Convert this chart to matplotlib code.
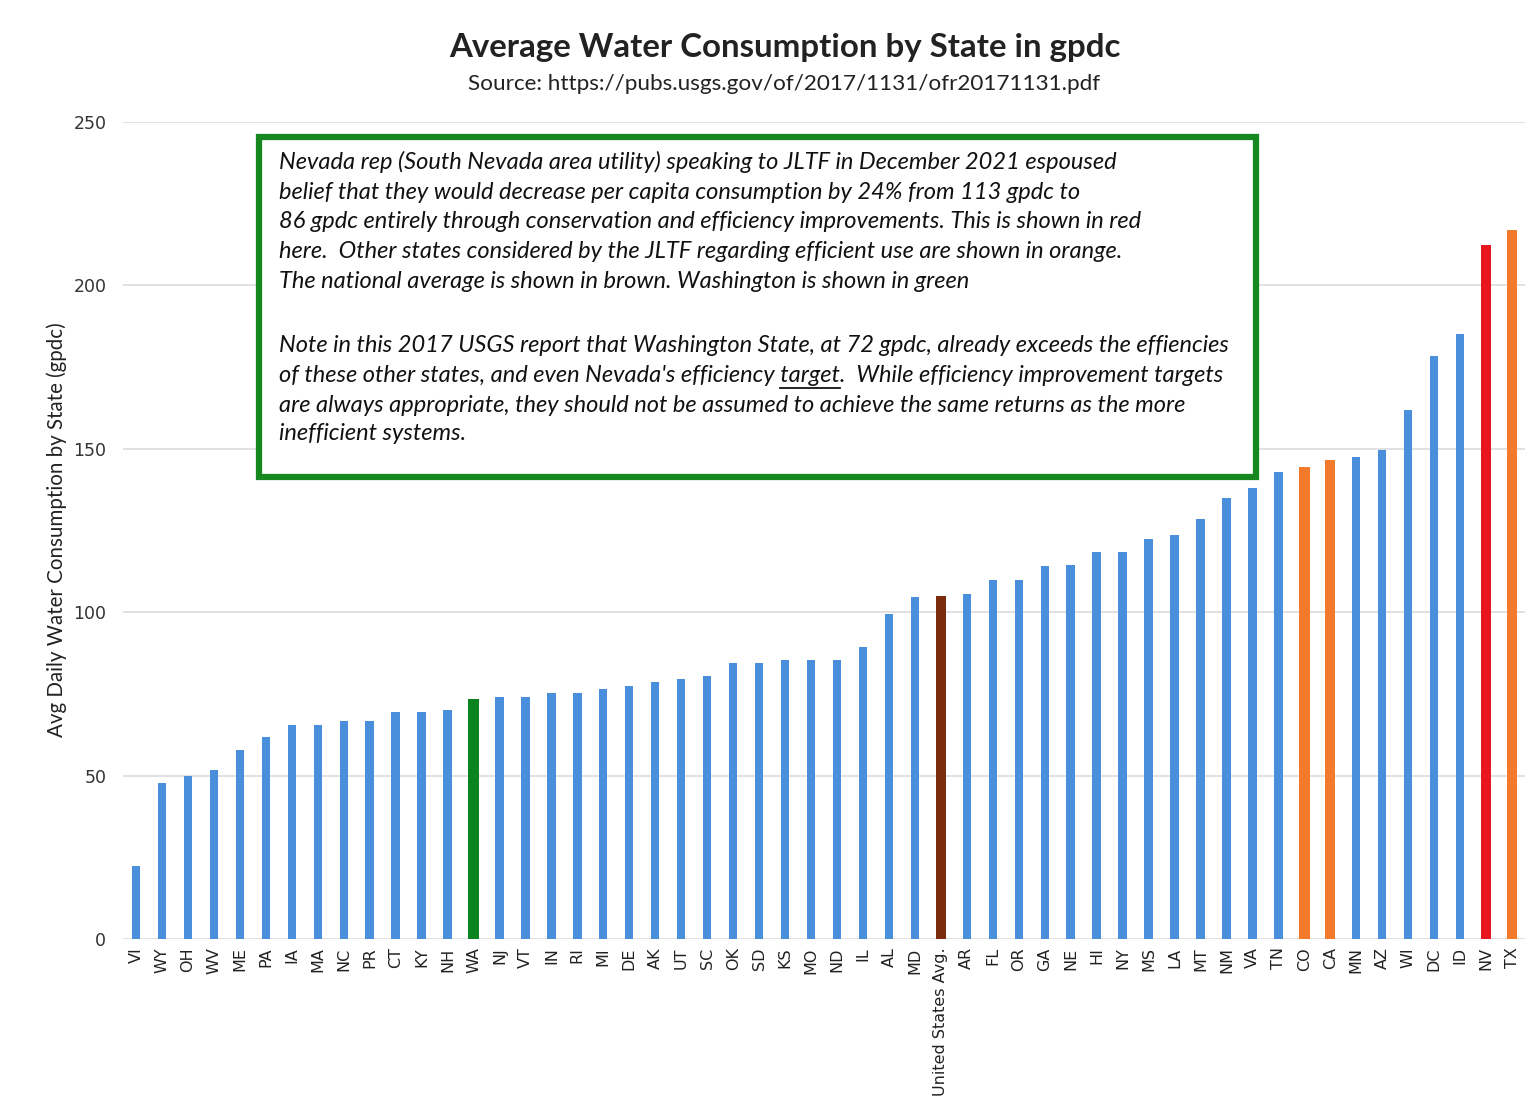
import numpy as np
import matplotlib.pyplot as plt
from matplotlib.patches import Rectangle
from matplotlib.lines import Line2D

states = ["VI", "WY", "OH", "WV", "ME", "PA", "IA", "MA", "NC", "PR", "CT", "KY", "NH", "WA",
          "NJ", "VT", "IN", "RI", "MI", "DE", "AK", "UT", "SC", "OK", "SD", "KS", "MO", "ND",
          "IL", "AL", "MD", "United States Avg.", "AR", "FL", "OR", "GA", "NE", "HI", "NY",
          "MS", "LA", "MT", "NM", "VA", "TN", "CO", "CA", "MN", "AZ", "WI", "DC", "ID", "NV", "TX"]
gpdc = [22.4, 47.8, 49.8, 51.6, 57.7, 61.7, 65.5, 65.5, 66.6, 66.6, 69.4, 69.4, 70.2, 73.5,
        74.1, 74.1, 75.2, 75.2, 76.5, 77.5, 78.5, 79.5, 80.5, 84.5, 84.5, 85.5, 85.5, 85.5,
        89.5, 99.5, 104.5, 105.0, 105.5, 110.0, 110.0, 114.0, 114.5, 118.5, 118.5,
        122.5, 123.5, 128.5, 135.0, 138.0, 143.0, 144.5, 146.5, 147.5, 149.5, 162.0, 178.5,
        185.0, 212.5, 217.0]

highlight = {"WA": "#0b8420", "United States Avg.": "#7a2c0c",
             "CO": "#f37a2a", "CA": "#f37a2a", "TX": "#f37a2a", "NV": "#e8161d"}
blue = "#4a8fdc"

note_lines = [
    "Nevada rep (South Nevada area utility) speaking to JLTF in December 2021 espoused",
    "belief that they would decrease per capita consumption by 24% from 113 gpdc to",
    "86 gpdc entirely through conservation and efficiency improvements. This is shown in red",
    "here.  Other states considered by the JLTF regarding efficient use are shown in orange.",
    "The national average is shown in brown. Washington is shown in green",
    "",
    "Note in this 2017 USGS report that Washington State, at 72 gpdc, already exceeds the effiencies",
    "of these other states, and even Nevada's efficiency target.  While efficiency improvement targets",
    "are always appropriate, they should not be assumed to achieve the same returns as the more",
    "inefficient systems.",
]
note_y = [162, 192, 222, 252, 282, 0, 345, 376, 405, 434]

W, H = 1531, 1114
fig = plt.figure(figsize=(W / 100, H / 100), dpi=100)
ax = fig.add_axes([123 / W, 1 - 939 / H, 1402 / W, 817 / H])

x = np.arange(len(states))
colors = [highlight.get(s, blue) for s in states]
widths = [0.4 if s in highlight else 0.32 for s in states]
ax.bar(x, gpdc, width=widths, color=colors, zorder=3)

ax.set_xlim(-0.5, len(states) - 0.5)
ax.set_ylim(0, 250)
ax.set_yticks([0, 50, 100, 150, 200, 250])
ax.grid(axis="y", color="#dcdcdc", linewidth=1.2, zorder=0)
for sp in ax.spines.values():
    sp.set_visible(False)
ax.set_xticks(x)
ax.set_xticklabels(states, rotation=90, fontsize=11.5, family="DejaVu Sans", color="#222222")
ax.tick_params(axis="both", length=0)
ax.tick_params(axis="x", pad=6)
ax.tick_params(axis="y", pad=12)
for t in ax.get_yticklabels():
    t.set_fontsize(12.5)
    t.set_family("DejaVu Sans")
    t.set_color("#333333")

fig.text(57 / W, 1 - 530 / H, "Avg Daily Water Consumption by State (gpdc)", rotation=90,
         ha="center", va="center", fontsize=14.8, family="Lato", color="#222222")
fig.text(785 / W, 1 - 48 / H, "Average Water Consumption by State in gpdc",
         ha="center", va="center", fontsize=23.8, family="Lato", weight="bold", color="#222222")
fig.text(784 / W, 1 - 84 / H, "Source: https://pubs.usgs.gov/of/2017/1131/ofr20171131.pdf",
         ha="center", va="center", fontsize=16.2, family="Lato", color="#222222")

box = Rectangle((259 / W, 1 - 477 / H), 997 / W, 340 / H, transform=fig.transFigure,
                facecolor="white", edgecolor="#16881f", linewidth=4.5, zorder=5)
fig.add_artist(box)

note_style = dict(fontsize=17, family="Lato", style="italic", color="#111111",
                  ha="left", va="center")
for line, yy in zip(note_lines, note_y):
    if line:
        fig.text(279 / W, 1 - yy / H, line, zorder=6, **note_style)

# underline "target"
renderer = fig.canvas.get_renderer()
line8 = note_lines[7]
cut = line8.index("target") + len("target")
probe = fig.text(279 / W, 1 - 376 / H, line8[:cut], alpha=0, **note_style)
word = fig.text(279 / W, 1 - 376 / H, "target", alpha=0, **note_style)
bb_end = probe.get_window_extent(renderer)
bb_word = word.get_window_extent(renderer)
probe.remove()
word.remove()
x1 = bb_end.x1
x0 = x1 - bb_word.width
uy = (H - 376 - 12) / H
fig.add_artist(Line2D([x0 / W, x1 / W], [uy, uy], transform=fig.transFigure,
                      color="#111111", linewidth=1.3, zorder=7))

fig.savefig("out.png", dpi=100, facecolor="white")
